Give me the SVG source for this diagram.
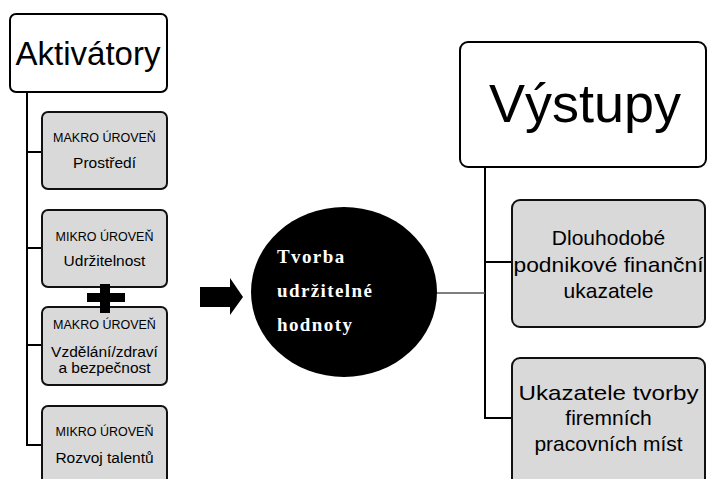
<svg xmlns="http://www.w3.org/2000/svg" width="707" height="479" viewBox="0 0 707 479">
<style>
.hdr{fill:#fff;stroke:#000;stroke-width:2}
.box{fill:#d9d9d9;stroke:#111;stroke-width:2}
.ln{fill:none;stroke:#000;stroke-width:2}
.t{font-family:"Liberation Sans",Arial,sans-serif;fill:#000;text-anchor:middle}
.s{font-size:12.5px}
.m{font-size:15.5px}
.r{font-size:21px}
.c{font-family:"Liberation Serif","Times New Roman",serif;font-weight:bold;font-size:19px;fill:#fff;letter-spacing:1.4px}
</style>
<rect width="707" height="479" fill="#fff"/>
<g id="connectors">
<polyline class="ln" points="27,92 27,445 42,445"/>
<line class="ln" x1="27" y1="152" x2="42" y2="152"/>
<line class="ln" x1="27" y1="248" x2="42" y2="248"/>
<line class="ln" x1="27" y1="345" x2="42" y2="345"/>
<polyline class="ln" points="485,167 485,418 512,418"/>
<line class="ln" x1="485" y1="262" x2="512" y2="262"/>
<line x1="436" y1="293" x2="485" y2="293" stroke="#555" stroke-width="1.5"/>
<polygon points="200,287 230,287 230,278 243,297 230,315 230,307 200,307" fill="#000"/>
</g>
<g id="aktivatory">
<rect class="hdr" x="10" y="14" width="157" height="78" rx="6"/>
<text class="t" x="88" y="65" font-size="33">Aktivátory</text>
</g>
<g id="makro1">
<rect class="box" x="42" y="112" width="125" height="77" rx="6"/>
<text class="t s" x="104.5" y="142">MAKRO ÚROVEŇ</text>
<text class="t m" x="104.5" y="168">Prostředí</text>
</g>
<g id="mikro1">
<rect class="box" x="42" y="210" width="125" height="77" rx="6"/>
<text class="t s" x="104.5" y="241">MIKRO ÚROVEŇ</text>
<text class="t m" x="104.5" y="266">Udržitelnost</text>
</g>
<g id="makro2">
<rect class="box" x="42" y="307" width="125" height="78" rx="6"/>
<text class="t s" x="104.5" y="329">MAKRO ÚROVEŇ</text>
<text class="t m" x="104.5" y="357">Vzdělání/zdraví</text>
<text class="t m" x="104.5" y="373">a bezpečnost</text>
</g>
<g id="mikro2">
<rect class="box" x="42" y="406" width="125" height="80" rx="6"/>
<text class="t s" x="104.5" y="436">MIKRO ÚROVEŇ</text>
<text class="t m" x="104.5" y="463">Rozvoj talentů</text>
</g>
<g id="plus">
<rect x="87" y="293" width="38" height="9" fill="#000"/>
<rect x="100" y="284" width="10" height="29" fill="#000"/>
</g>
<g id="tvorba">
<ellipse cx="344" cy="292" rx="93" ry="85" fill="#000"/>
<text class="c" x="277" y="263">Tvorba</text>
<text class="c" x="277" y="297">udržitelné</text>
<text class="c" x="277" y="331">hodnoty</text>
</g>
<g id="vystupy">
<rect class="hdr" x="460" y="42" width="246" height="125" rx="8"/>
<text class="t" x="585" y="122" font-size="54">Výstupy</text>
</g>
<g id="financni">
<rect class="box" x="512" y="200" width="193" height="127" rx="8"/>
<text class="t r" x="608.5" y="245">Dlouhodobé</text>
<text class="t r" x="608.5" y="272" textLength="190" lengthAdjust="spacingAndGlyphs">podnikové finanční</text>
<text class="t r" x="608.5" y="298">ukazatele</text>
</g>
<g id="pracovni">
<rect class="box" x="512" y="358" width="193" height="130" rx="8"/>
<text class="t r" x="608.5" y="400" textLength="180" lengthAdjust="spacingAndGlyphs">Ukazatele tvorby</text>
<text class="t r" x="608.5" y="425">firemních</text>
<text class="t r" x="608.5" y="451">pracovních míst</text>
</g>
</svg>
